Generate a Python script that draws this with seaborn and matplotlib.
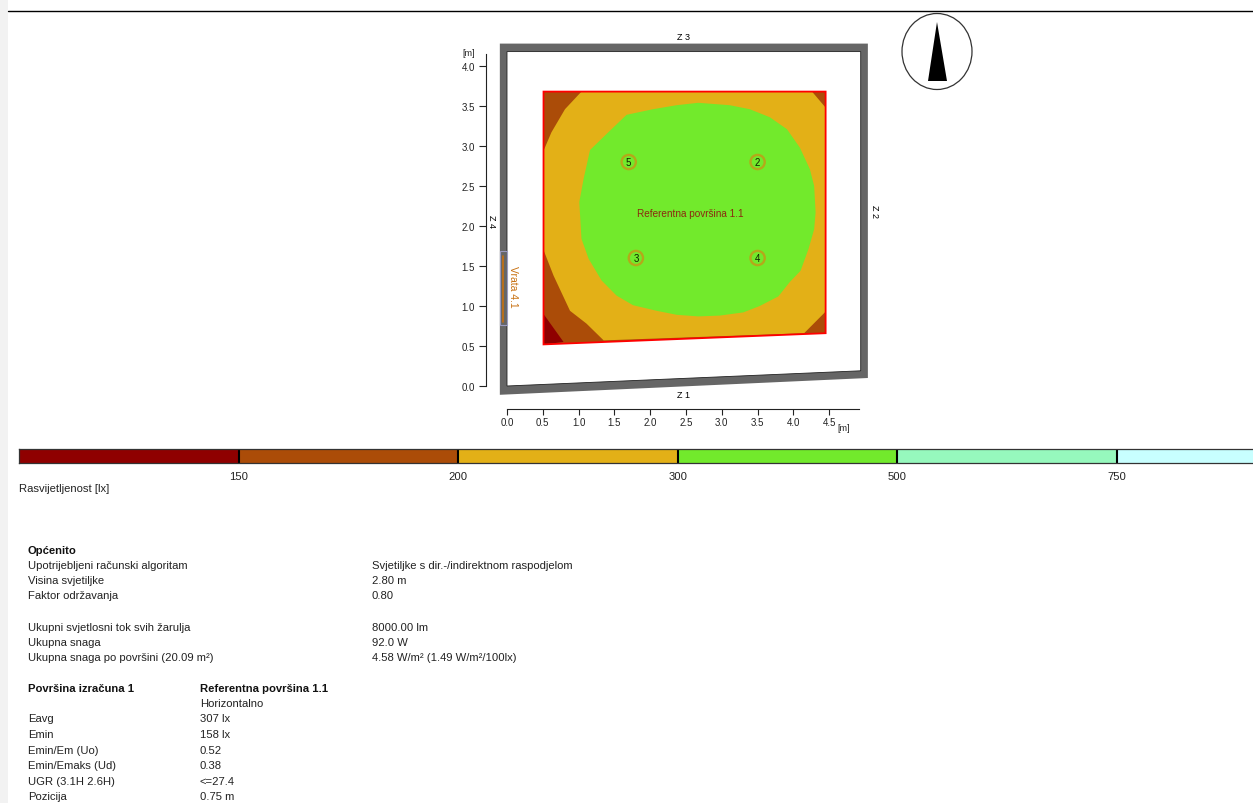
"""
Rasvjeta prostorije - izolinije rasvijetljenosti i podaci proracuna
"""
import numpy as np
import matplotlib
matplotlib.use('Agg')
import matplotlib.pyplot as plt
from matplotlib.colors import ListedColormap
from matplotlib.patches import Ellipse
import pandas as pd
import seaborn as sns

# ============================================================
# DATA (plan coordinates in metres)
# ============================================================
wall_outer_x = [-0.10, 5.04, 5.04, -0.10]
wall_outer_y = [4.28, 4.28, 0.10, -0.11]
wall_inner_x = [0.0, 4.94, 4.94, 0.0]
wall_inner_y = [4.18, 4.18, 0.19, 0.0]

surface_x = [0.51, 4.45, 4.45, 0.51]
surface_y = [3.68, 3.68, 0.66, 0.52]

amber_x = [1.04, 4.26, 4.45, 4.45, 4.15, 1.35, 1.11, 0.88, 0.65, 0.51, 0.51, 0.62, 0.81]
amber_y = [3.68, 3.68, 3.48, 0.93, 0.66, 0.57, 0.78, 0.94, 1.38, 1.70, 2.94, 3.17, 3.46]

green_x = [2.67, 3.11, 3.39, 3.67, 3.91, 4.09, 4.23, 4.29, 4.31, 4.29, 4.21, 4.10, 3.95, 3.79, 3.53, 3.30,
           2.97, 2.67, 2.37, 2.09, 1.76, 1.53, 1.32, 1.14, 1.04, 1.01, 1.07, 1.16, 1.39, 1.67, 2.04, 2.37]
green_y = [3.54, 3.51, 3.46, 3.36, 3.21, 2.98, 2.71, 2.50, 2.17, 1.96, 1.71, 1.44, 1.30, 1.12, 1.00, 0.92,
           0.88, 0.87, 0.89, 0.94, 1.01, 1.13, 1.32, 1.59, 1.84, 2.30, 2.59, 2.95, 3.15, 3.39, 3.46, 3.51]

red_x = [0.51, 0.79, 0.51]
red_y = [0.90, 0.55, 0.52]

lum_ids = ['5', '2', '3', '4']
lum_x = [1.70, 3.50, 1.80, 3.50]
lum_y = [2.80, 2.80, 1.60, 1.60]

door_x = [-0.10, 0.0, 0.0, -0.10]
door_y = [0.76, 0.76, 1.69, 1.69]
door_line_y = [0.80, 1.62]

x_ticks = [0.0, 0.5, 1.0, 1.5, 2.0, 2.5, 3.0, 3.5, 4.0, 4.5]
y_ticks = [0.0, 0.5, 1.0, 1.5, 2.0, 2.5, 3.0, 3.5, 4.0]

class_colors = ['#8f0000', '#ab4c08', '#e3b017', '#72ea2c', '#96f8bd', '#c8ffff']
class_breaks = ['150', '200', '300', '500', '750']

rows_general = [
    ('Upotrijebljeni računski algoritam', 'Svjetiljke s dir.-/indirektnom raspodjelom', 566),
    ('Visina svjetiljke', '2.80 m', 581),
    ('Faktor održavanja', '0.80', 596),
    ('Ukupni svjetlosni tok svih žarulja', '8000.00 lm', 628),
    ('Ukupna snaga', '92.0 W', 643),
    ('Ukupna snaga po površini (20.09 m²)', '4.58 W/m² (1.49 W/m²/100lx)', 658),
]
rows_surface = [
    ('', 'Horizontalno', 704),
    ('Eavg', '307 lx', 719),
    ('Emin', '158 lx', 735),
    ('Emin/Em (Uo)', '0.52', 751),
    ('Emin/Emaks (Ud)', '0.38', 766),
    ('UGR (3.1H 2.6H)', '<=27.4', 782),
    ('Pozicija', '0.75 m', 797),
]

# ============================================================
# FIGURE
# ============================================================
sns.set_theme(style='white')
plt.rcParams['font.family'] = ['Liberation Sans', 'DejaVu Sans']

W, H = 1253, 804
TEXT_SIZE = 8.15
fig = plt.figure(figsize=(W / 100, H / 100), dpi=100, facecolor='white')


def px_axes(left, top, right, bottom):
    return fig.add_axes([left / W, 1 - bottom / H, (right - left) / W, (bottom - top) / H])


# page overlay in pixel units
page = px_axes(0, 0, W, H)
page.set_xlim(0, W)
page.set_ylim(H, 0)
page.axis('off')
page.axvspan(0, 8, color='#f2f2f2', lw=0)
page.plot([8, W], [11.5, 11.5], color='black', lw=1)

# compass
page.add_patch(Ellipse((937, 52.5), 70, 76, fc='none', ec='#333333', lw=0.9))
page.fill([937, 928, 947], [23, 82, 82], color='black', lw=0)

# plan
sx, sy = 71.6, 80.0
x0, y0 = 507, 387
xlim = (-0.293, 5.2)
ylim = (-0.2875, 4.4)
ax = px_axes(x0 + xlim[0] * sx, y0 - ylim[1] * sy, x0 + xlim[1] * sx, y0 - ylim[0] * sy)
ax.set_facecolor('none')
ax.fill(wall_outer_x, wall_outer_y, color='#666666', lw=0)
ax.fill(wall_inner_x, wall_inner_y, fc='white', ec='#222222', lw=0.6)
ax.fill(door_x, door_y, fc='#666666', ec='#9a9ac0', lw=0.8)
ax.plot([-0.05, -0.05], door_line_y, color='#c87010', lw=1.2)

ax.fill(surface_x, surface_y, color=class_colors[1], lw=0)
ax.fill(amber_x, amber_y, color=class_colors[2], lw=0)
ax.fill(green_x, green_y, color=class_colors[3], lw=0)
ax.fill(red_x, red_y, color=class_colors[0], lw=0)
ax.fill(surface_x, surface_y, fc='none', ec='#ff0000', lw=1.3)

lum = pd.DataFrame({'x': lum_x, 'y': lum_y, 'id': lum_ids})
sns.scatterplot(data=lum, x='x', y='y', ax=ax, s=105, marker='o', facecolor='none',
                edgecolor='#b5a81a', linewidth=1.7, legend=False)
for _, row in lum.iterrows():
    ax.text(row['x'], row['y'], row['id'], ha='center', va='center', fontsize=7, color='#102000')

ax.text(2.56, 2.16, 'Referentna površina 1.1', ha='center', va='center', fontsize=7.2, color='#8b2a10')
ax.text(0.08, 1.25, 'Vrata 4.1', rotation=-90, ha='center', va='center', fontsize=7.5, color='#c87010')
ax.text(2.47, 4.37, 'Z 3', ha='center', va='center', fontsize=6.5, color='black')
ax.text(2.47, -0.11, 'Z 1', ha='center', va='center', fontsize=6.5, color='black', zorder=5)
ax.text(5.13, 2.19, 'Z 2', rotation=-90, ha='center', va='center', fontsize=6.5, color='black')
ax.text(-0.21, 2.07, 'Z 4', rotation=-90, ha='center', va='center', fontsize=6.5, color='black')

ax.set_xlim(xlim)
ax.set_ylim(ylim)
ax.set_xticks(x_ticks)
ax.set_yticks(y_ticks)
ax.set_xticklabels([f'{t:.1f}' for t in x_ticks])
ax.set_yticklabels([f'{t:.1f}' for t in y_ticks])
ax.tick_params(axis='x', direction='out', length=4, width=0.8, labelsize=7,
               color='#222222', labelcolor='#222222', bottom=True, pad=2)
ax.tick_params(axis='y', direction='out', length=5, width=0.8, labelsize=7,
               color='#222222', labelcolor='#222222', left=True, pad=3)
ax.set_xlabel('')
ax.set_ylabel('')
sns.despine(ax=ax)
for side in ['left', 'bottom']:
    ax.spines[side].set_color('#222222')
    ax.spines[side].set_linewidth(0.8)
ax.spines['left'].set_bounds(0, 4.15)
ax.spines['bottom'].set_bounds(0, 4.91)
page.text(469, 54, '[m]', ha='center', va='center', fontsize=6.5, color='#222222')
page.text(844, 429, '[m]', ha='center', va='center', fontsize=6.5, color='#222222')

# colour scale, runs off the right edge of the page
seg = 219.6
bar = px_axes(19, 450, 19 + seg * len(class_colors), 464)
matrix = np.arange(len(class_colors)).reshape(1, -1)
sns.heatmap(matrix, ax=bar, cmap=ListedColormap(class_colors), cbar=False,
            linewidths=0, xticklabels=False, yticklabels=False)
for spine in bar.spines.values():
    spine.set_visible(True)
    spine.set_color('#333333')
    spine.set_linewidth(0.9)
breaks_pos = np.arange(1, len(class_colors))
bar.vlines(breaks_pos, 0, 1, color='black', lw=1.5)
bar.set_xticks(breaks_pos)
bar.set_xticklabels(class_breaks, fontsize=TEXT_SIZE, color='#222222')
bar.set_yticks([])
bar.tick_params(axis='x', length=0, pad=6)
page.text(19, 489, 'Rasvijetljenost [lx]', ha='left', va='center', fontsize=TEXT_SIZE, color='#222222')

# text blocks
page.text(28, 551, 'Općenito', ha='left', va='center', fontsize=TEXT_SIZE, fontweight='bold', color='#111111')
for label, value, y in rows_general:
    page.text(28, y, label, ha='left', va='center', fontsize=TEXT_SIZE, color='#222222')
    page.text(372, y, value, ha='left', va='center', fontsize=TEXT_SIZE, color='#222222')
page.text(28, 689, 'Površina izračuna 1', ha='left', va='center', fontsize=TEXT_SIZE, fontweight='bold', color='#111111')
page.text(200, 689, 'Referentna površina 1.1', ha='left', va='center', fontsize=TEXT_SIZE, fontweight='bold', color='#111111')
for label, value, y in rows_surface:
    page.text(28, y, label, ha='left', va='center', fontsize=TEXT_SIZE, color='#222222')
    page.text(200, y, value, ha='left', va='center', fontsize=TEXT_SIZE, color='#222222')

fig.savefig('out.png', dpi=100)
plt.close(fig)
